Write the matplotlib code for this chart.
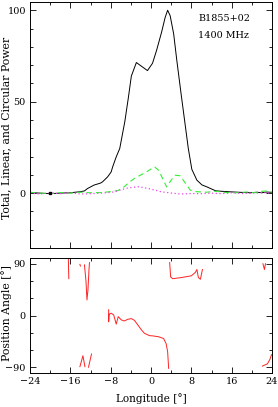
import numpy as np
import matplotlib
matplotlib.use("Agg")
import matplotlib.pyplot as plt
from matplotlib.ticker import MultipleLocator

# --- profile ---
tot_x = [-24, -22, -20, -18, -16, -15, -14, -13.2, -12.6, -11.3, -10, -9.6, -8.6, -7.9,
         -7.6, -6.9, -6.2, -5.2, -4.5, -3.9, -2.9, -2.2, -0.7, 0.3, 1.1, 2.1, 2.8, 3.3,
         3.8, 4.5, 5.1, 6.0, 6.7, 7.4, 8.1, 9.1, 10.1, 11.1, 12.8, 14, 15.8, 18, 19.8,
         21, 22, 23, 24]
tot_y = [0.3, 0.0, -0.3, 0.0, 0.2, 0.5, 0.8, 1.2, 2.5, 4.4, 5.5, 6.2, 8.9, 11.6,
         14.4, 19.8, 24.4, 39, 52, 64, 71.4, 70, 67, 71, 78, 88, 96, 100,
         97, 87, 73, 53.6, 39, 24.4, 13, 7.1, 4.5, 3.4, 1.3, 1.0, 0.7, 0.4, 0.2,
         0.5, 0.2, 0.6, 0.4]

lin_x = [-24, -22, -20, -18, -16, -14, -12, -10, -8, -6.5, -5.3, -4.3, -3.3, -2, -0.9,
         0.7, 1.5, 2.3, 3.1, 4.1, 4.8, 5.8, 6.8, 7.8, 9, 11, 13, 15, 17, 19, 21, 22,
         23, 24]
lin_y = [0.5, 0.0, -0.3, 0.3, 0.0, 0.5, 0.2, 0.3, 0.8, 1.5, 3.5, 6, 8, 10, 11.6,
         14.4, 12.5, 8, 3.4, 7.5, 9.8, 9.5, 5.5, 1.6, 0.8, 0.5, 1.0, 0.3, 0.2, 0.6, 0.2, 1.0,
         1.2, 0.5]

circ_x = [-24, -22, -20, -18, -16, -14, -12, -10, -8.5, -7.2, -6, -4.5, -2.5, -0.5, 1,
          2.1, 4.1, 6, 8, 10, 12, 14, 16, 18, 20, 22, 24]
circ_y = [0.0, -0.5, 0.2, -0.3, 0.3, -0.5, -0.3, 0.0, 0.3, 0.7, 1.8, 2.9, 3.5, 2.5, 1.5,
          0.7, 0.0, -0.5, -0.2, -0.3, 0.0, -0.3, 0.2, -0.2, 0.0, 0.3, 0.0]

# off-pulse marker
rms_x = [-20]
rms_y = [0]

# --- position angle segments ---
pa_segments = [
    ([-16.4, -16.35, -16.3], [102, 80, 64]),
    ([-14.1, -14.0], [89, 86]),
    ([-13.2, -12.9, -12.7, -12.5, -12.3, -12.2], [88, 60, 27, 45, 80, 92]),
    ([-14.1, -13.5, -13.1], [-89, -70, -89]),
    ([-12.4, -11.8], [-90, -67]),
    ([-8.4, -8.4, -8.3, -7.9, -7.4, -6.9, -6.5, -5.9, -5.3, -4.6, -3.9, -3.3, -2.6,
      -1.9, -1.3, -0.3, 0.4, 1.5, 2.5, 3.0, 3.3, 3.5],
     [10, -11, 2, 4, 1, -15, -2, -7.6, -9.5, -6.6, -5.4, -8.3, -16.5,
      -25, -31, -35, -35.5, -37, -40, -49, -63, -92]),
    ([3.7, 3.9, 4.3, 6.0, 8.0, 8.8, 9.1, 9.4, 9.8, 10.2],
     [92, 67, 64, 66, 69, 75, 80, 66, 63, 80]),
    ([22.2, 22.5, 22.7], [90, 80, 90]),
    ([22.1, 23.1, 23.6, 23.9], [-88, -84, -76, -68]),
]

plt.rcParams['font.family'] = ['DejaVu Serif']
plt.rcParams['font.size'] = 6.9

fig = plt.figure(figsize=(2.78, 4.07), dpi=100)
ax1 = fig.add_axes([30 / 278, 1 - 248 / 407, 242 / 278, 246 / 407])
ax2 = fig.add_axes([30 / 278, 1 - 373 / 407, 242 / 278, 115 / 407])

# --- top: total, linear, circular ---
ax1.plot(tot_x, tot_y, color='black', lw=0.7)
ax1.plot(lin_x, lin_y, color='#33ee33', lw=0.8, linestyle=(0, (5, 3.5)))
ax1.plot(circ_x, circ_y, color='#ee44ee', lw=0.9, linestyle=(0, (1, 2)))
ax1.plot(rms_x, rms_y, marker='s', color='black', markersize=2, linestyle='none')
ax1.set_xlim(-24, 24)
ax1.set_ylim(-30, 104.5)
ax1.text(9.4, 95.5, 'B1855+02', va='center', ha='left')
ax1.text(9.4, 86, '1400 MHz', va='center', ha='left')
ax1.xaxis.set_major_locator(MultipleLocator(8))
ax1.xaxis.set_minor_locator(MultipleLocator(4))
ax1.yaxis.set_major_locator(MultipleLocator(50))
ax1.yaxis.set_minor_locator(MultipleLocator(10))
ax1.tick_params(labelbottom=False)

# --- bottom: position angle ---
for sx, sy in pa_segments:
    ax2.plot(sx, sy, color='#ff2222', lw=0.7)
ax2.set_xlim(-24, 24)
ax2.set_ylim(-100, 100)
ax2.set_xlabel('Longitude [°]', labelpad=5, fontsize=7.6)
ax2.xaxis.set_major_locator(MultipleLocator(8))
ax2.xaxis.set_minor_locator(MultipleLocator(4))
ax2.yaxis.set_major_locator(MultipleLocator(90))
ax2.yaxis.set_minor_locator(MultipleLocator(30))

for ax in (ax1, ax2):
    ax.tick_params(which='both', direction='in', top=True, right=True, width=0.6, pad=3)
    ax.tick_params(which='major', length=4)
    ax.tick_params(which='minor', length=2.5)
    for s in ax.spines.values():
        s.set_linewidth(0.7)

# y labels placed by hand so they stay inside the narrow left margin
fig.text(6.5 / 278, 1 - 128 / 407, 'Total, Linear, and Circular Power',
         rotation=90, ha='center', va='center', fontsize=7.8)
fig.text(6.5 / 278, 1 - 313 / 407, 'Position Angle [°]',
         rotation=90, ha='center', va='center', fontsize=7.8)

fig.savefig('out.png', dpi=100)
